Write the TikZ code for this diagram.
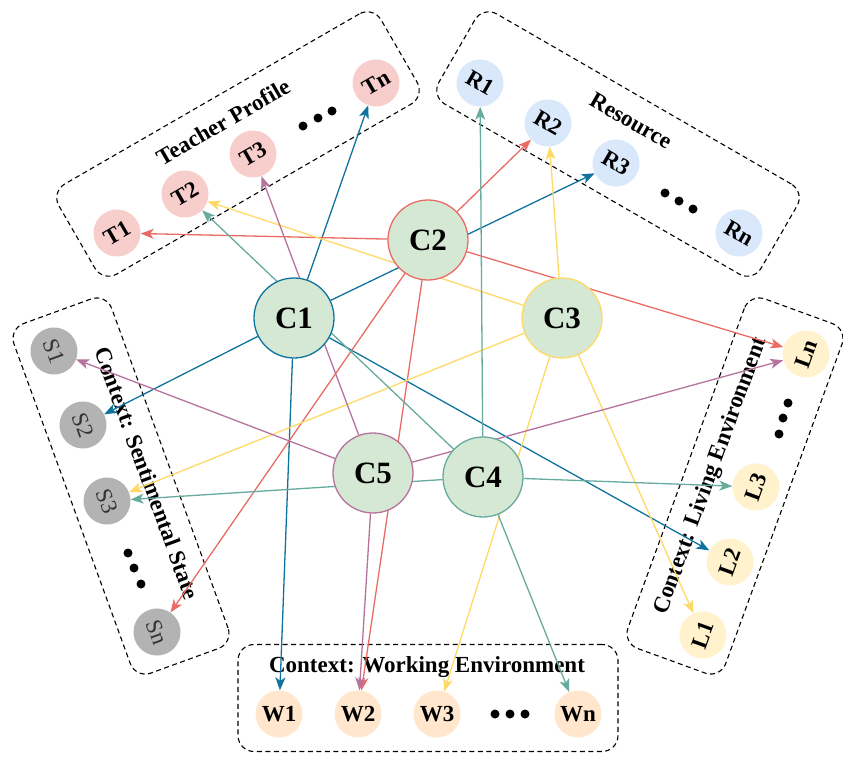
\documentclass[tikz,border=0pt]{standalone}
\usepackage{fontspec}
\setmainfont{Liberation Serif}
\usetikzlibrary{arrows.meta}
\pgfdeclarelayer{boxes}
\pgfdeclarelayer{edges}
\pgfsetlayers{boxes,edges,main}
\definecolor{cblue}{HTML}{10739E}
\definecolor{cred}{HTML}{EA6B66}
\definecolor{cyellow}{HTML}{FFD966}
\definecolor{cteal}{HTML}{67AB9F}
\definecolor{cpurple}{HTML}{B5739D}
\definecolor{tfill}{HTML}{F8CECC}
\definecolor{rfill}{HTML}{DAE8FC}
\definecolor{sfill}{HTML}{B3B3B3}
\definecolor{lfill}{HTML}{FFF2CC}
\definecolor{wfill}{HTML}{FFE6CC}
\definecolor{cfill}{HTML}{D5E8D4}
\definecolor{stext}{HTML}{333333}
\begin{document}
\begin{tikzpicture}[x=1pt,y=-1pt,
  grp/.style={draw=black, dash pattern=on 5pt off 3.5pt, line width=1.1pt, rounded corners=16pt, minimum width=372pt, minimum height=104pt, inner sep=0pt},
  small/.style={circle, minimum size=47pt, inner sep=0pt, font=\fontsize{23}{23}\selectfont\bfseries},
  tnode/.style={small, fill=tfill, rotate=30},
  rnode/.style={small, fill=rfill, rotate=-30},
  snode/.style={small, fill=sfill, rotate=-70, text=stext, font=\fontsize{23}{23}\selectfont},
  lnode/.style={small, fill=lfill, rotate=70},
  wnode/.style={small, fill=wfill},
  cnode/.style={circle, minimum size=80pt, inner sep=0pt, fill=cfill, line width=1.3pt, font=\fontsize{31}{31}\selectfont\bfseries},
  edge/.style={line width=1.3pt, -{Stealth[length=13pt,width=10pt,inset=3.5pt]}},
  glabel/.style={font=\fontsize{23}{23}\selectfont\bfseries, inner sep=0pt}
]
\useasboundingbox (0,0) rectangle (843,756);

% group boxes and labels
\begin{pgfonlayer}{boxes}
  \node[grp, rotate=30]  (boxT) at (238,144) {};
  \node[grp, rotate=-30] (boxR) at (618,144) {};
  \node[grp, rotate=-70] (boxS) at (121,486) {};
  \node[grp, rotate=70]  (boxL) at (735,486) {};
  \node[grp, minimum width=380pt, minimum height=107pt] (boxW) at (428,698) {};
  \node[glabel, rotate=30]  (labT) at (223,122) {Teacher Profile};
  \node[glabel, rotate=-30] (labR) at (631,121) {Resource};
  \node[glabel, rotate=-70] (labS) at (147,473) {Context: Sentimental State};
  \node[glabel, rotate=70]  (labL) at (711,476) {Context: Living Environment};
  \node[glabel] (labW) at (427,667) {Context: Working Environment};
\end{pgfonlayer}

% teacher nodes
\node[tnode] (T1) at (117,233) {T1};
\node[tnode] (T2) at (185,194) {T2};
\node[tnode] (T3) at (253,154) {T3};
\node[tnode] (Tn) at (376,83) {Tn};
% resource nodes
\node[rnode] (R1) at (480,83) {R1};
\node[rnode] (R2) at (548,123) {R2};
\node[rnode] (R3) at (616,163) {R3};
\node[rnode] (Rn) at (739,233) {Rn};
% sentimental nodes
\node[snode] (S1) at (54,351) {S1};
\node[snode] (S2) at (83,425) {S2};
\node[snode] (S3) at (107,501) {S3};
\node[snode] (Sn) at (157,632) {Sn};
% living nodes
\node[lnode] (Ln) at (806,354) {Ln};
\node[lnode] (L3) at (756,487) {L3};
\node[lnode] (L2) at (730,562) {L2};
\node[lnode] (L1) at (703,635) {L1};
% working nodes
\node[wnode] (W1) at (279,714) {W1};
\node[wnode] (W2) at (358,714) {W2};
\node[wnode] (W3) at (437,714) {W3};
\node[wnode] (Wn) at (578,714) {Wn};

% ellipsis dots
\foreach \p in {(303,126),(318,118),(332,111),(665,193),(679,201),(693,209),
                (128,553),(134,568),(141,584),(788,403),(783,418),(779,434),
                (495,714),(510,714),(525,714)}
  \fill[black] \p circle (4.5pt);

% central nodes
\node[cnode, draw=cblue]   (C1) at (294,318) {C1};
\node[cnode, draw=cred]    (C2) at (428,240) {C2};
\node[cnode, draw=cyellow] (C3) at (562,318) {C3};
\node[cnode, draw=cteal]   (C4) at (483,477) {C4};
\node[cnode, draw=cpurple] (C5) at (373,473) {C5};

% connectors
\begin{pgfonlayer}{edges}
  \foreach \t in {Tn,R3,S2,W1,L2} \draw[edge, cblue] (C1) -- (\t);
  \foreach \t in {T1,R2,Ln,Sn,W2} \draw[edge, cred] (C2) -- (\t);
  \foreach \t in {T2,R2,S3,W3,L1} \draw[edge, cyellow] (C3) -- (\t);
  \foreach \t in {R1,T2,S3,L3,Wn} \draw[edge, cteal] (C4) -- (\t);
  \foreach \t in {S1,T3,Ln,W2} \draw[edge, cpurple] (C5) -- (\t);
\end{pgfonlayer}
\end{tikzpicture}
\end{document}
